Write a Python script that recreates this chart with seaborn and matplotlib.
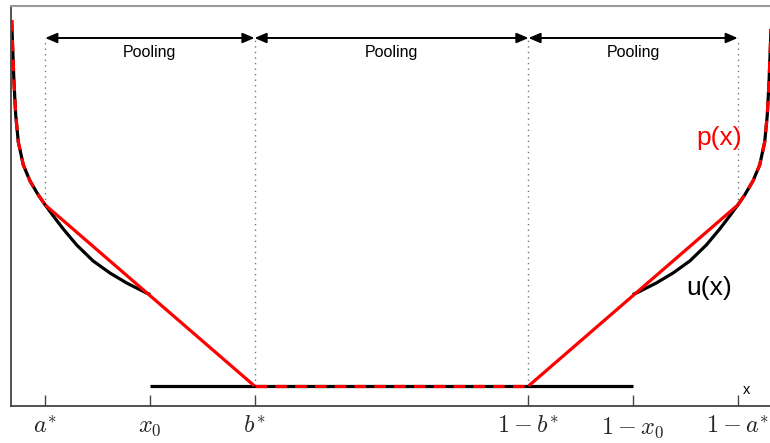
import numpy as np
import pandas as pd
import matplotlib
matplotlib.use("Agg")
import matplotlib.pyplot as plt
import seaborn as sns

# ---- data ----
a_star = 0.045
x0 = 0.183
b_star = 0.32
tick_pos = [a_star, x0, b_star, 1 - b_star, 1 - x0, 1 - a_star]
tick_labels = [r"$a^{*}$", r"$x_0$", r"$b^{*}$", r"$1-b^{*}$", r"$1-x_0$", r"$1-a^{*}$"]

# u(x) left branch (0 .. x0)
u_left_x = [0.0009, 0.0022, 0.0039, 0.0062, 0.0096, 0.0162, 0.025, 0.0359, 0.045,
            0.0556, 0.0687, 0.0863, 0.108, 0.130, 0.152, 0.178, 0.183]
u_left_y = [3.66, 3.38, 3.04, 2.71, 2.44, 2.21, 2.05, 1.91, 1.81,
            1.70, 1.57, 1.41, 1.25, 1.13, 1.03, 0.93, 0.915]
# u(x) right branch (1-x0 .. 1)
u_right_x = [0.817, 0.822, 0.848, 0.870, 0.892, 0.9137, 0.9313, 0.9444, 0.955,
             0.9641, 0.975, 0.9838, 0.9904, 0.9938, 0.9961, 0.9978, 0.9991]
u_right_y = [0.915, 0.93, 1.03, 1.13, 1.25, 1.41, 1.57, 1.70, 1.81,
             1.91, 2.05, 2.21, 2.44, 2.71, 3.04, 3.38, 3.66]
# flat part of u
u_flat_x = [0.183, 0.817]
u_flat_y = [0.0, 0.0]

# p(x) pieces
p_left_lin_x = [0.045, 0.32]
p_left_lin_y = [1.81, 0.0]
p_flat_x = [0.32, 0.68]
p_flat_y = [0.0, 0.0]
p_right_lin_x = [0.68, 0.955]
p_right_lin_y = [0.0, 1.81]

pool_bounds = [a_star, b_star, 1 - b_star, 1 - a_star]
pool_label = "Pooling"
arrow_y = 3.48

# ---- style ----
sns.set_style("white")
plt.rcParams["font.family"] = ["Liberation Sans", "DejaVu Sans"]
plt.rcParams["mathtext.fontset"] = "cm"

fig = plt.figure(figsize=(7.7, 4.43), dpi=100)
ax = fig.add_axes([11 / 770, 37 / 443, 761 / 770, 400 / 443])

LW = 2.3

def line(xs, ys, color, dashed=False, z=2):
    df = pd.DataFrame({"x": xs, "y": ys})
    sns.lineplot(data=df, x="x", y="y", ax=ax, color=color, lw=LW,
                 sort=False, estimator=None, zorder=z)
    ln = ax.lines[-1]
    if dashed:
        ln.set_dashes((3.6, 2.6))
    ln.set_solid_capstyle("butt")
    ln.set_dash_capstyle("butt")
    ln.set_solid_joinstyle("round")

# u(x) black
line(u_left_x, u_left_y, "black")
line(u_right_x, u_right_y, "black")
line(u_flat_x, u_flat_y, "black")

# p(x) red
n_la = sum(1 for v in u_left_x if v <= a_star)
line(u_left_x[:n_la], u_left_y[:n_la], "red", dashed=True, z=3)
n_ra = sum(1 for v in u_right_x if v >= 1 - a_star)
line(u_right_x[-n_ra:], u_right_y[-n_ra:], "red", dashed=True, z=3)
line(p_left_lin_x, p_left_lin_y, "red", z=3)
line(p_right_lin_x, p_right_lin_y, "red", z=3)
line(p_flat_x, p_flat_y, "red", dashed=True, z=3)

# dotted vertical guides
guide_bottom = [1.81, 0.0, 0.0, 1.81]
for xb, yb in zip(pool_bounds, guide_bottom):
    ax.plot([xb, xb], [yb, arrow_y], color="#777777", lw=1.0, ls=(0, (1, 3)), zorder=1)

# pooling arrows
for left, right in zip(pool_bounds[:-1], pool_bounds[1:]):
    ax.annotate("", xy=(right, arrow_y), xytext=(left, arrow_y),
                arrowprops=dict(arrowstyle="<|-|>,head_length=0.7,head_width=0.3",
                                color="black", lw=1.4, shrinkA=0, shrinkB=0))
    ax.text((left + right) / 2, arrow_y - 0.15, pool_label, ha="center", va="center",
            fontsize=11.5, color="black")

ax.text(0.93, 2.48, "p(x)", color="red", fontsize=19, ha="center", va="center")
ax.text(0.918, 0.98, "u(x)", color="black", fontsize=19, ha="center", va="center")
ax.text(0.966, -0.04, "x", color="black", fontsize=10.5, ha="center", va="center")

ax.set_xlim(0, 1)
ax.set_ylim(-0.2, 3.8)
ax.set_xticks(tick_pos)
ax.set_xticklabels(tick_labels, fontsize=17.5)
ax.set_yticks([])
ax.set_xlabel("")
ax.set_ylabel("")
ax.tick_params(axis="x", direction="in", length=8, width=1.0, color="#444444", pad=7, bottom=True)

for s in ["left", "bottom"]:
    ax.spines[s].set_color("#444444")
    ax.spines[s].set_linewidth(1.3)
ax.spines["top"].set_color("#999999")
ax.spines["top"].set_linewidth(1.5)
ax.spines["right"].set_visible(False)

fig.savefig("out.png", dpi=100)
